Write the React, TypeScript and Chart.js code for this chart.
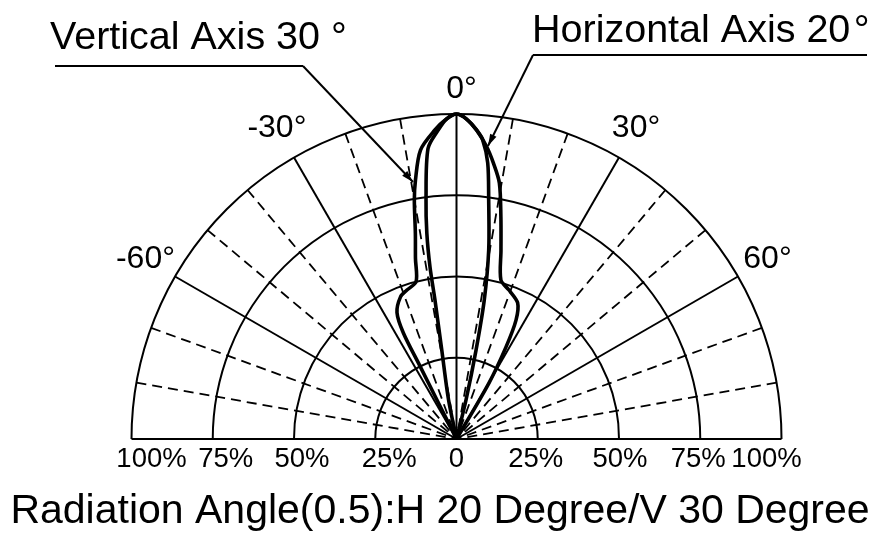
import React, { useEffect, useRef } from "react";
import { Chart, registerables } from "chart.js";

Chart.register(...registerables);

// ---- data (angle in degrees from the 0° axis, relative intensity 0..1) ----
const vAngles = [-27, -26.6, -26.6, -26.6, -25.2, -21.5, -18.4, -14.4, -12.8, -11.3, -10.0, -9.0, -7.1, -4.0, -1.8, 0, 1.8, 3.7, 5.9, 7.6, 9.5, 11.3, 13.25, 15.6, 19.4, 24.2, 26.6, 28.3, 30.1, 31];
const vIntensity = [0, 0.13, 0.25, 0.365, 0.43, 0.47, 0.483, 0.5, 0.57, 0.646, 0.747, 0.807, 0.896, 0.953, 0.985, 1.0, 0.985, 0.953, 0.904, 0.857, 0.799, 0.697, 0.597, 0.508, 0.486, 0.459, 0.409, 0.321, 0.199, 0];
const hAngles = [-12, -11.5, -9.4, -8.8, -8.76, -8.2, -7.27, -5.6, -3.4, -1.8, 0, 1.8, 3.7, 5.0, 6.45, 7.67, 9.67, 11.3, 12.4, 13.7, 14];
const hIntensity = [0, 0.123, 0.278, 0.433, 0.535, 0.64, 0.741, 0.898, 0.952, 0.985, 1.0, 0.985, 0.953, 0.924, 0.855, 0.742, 0.59, 0.436, 0.28, 0.123, 0];

const ringValues = [0.25, 0.5, 0.75, 1];
const spokeAngles = [-80, -70, -60, -50, -40, -30, -20, -10, 0, 10, 20, 30, 40, 50, 60, 70, 80];
const solidSpokes = [-60, -30, 0, 30, 60];
const tickValues = [-1, -0.75, -0.5, -0.25, 0, 0.25, 0.5, 0.75, 1];
const tickLabels = ["100%", "75%", "50%", "25%", "0", "25%", "50%", "75%", "100%"];
const angleLabelValues = [-60, -30, 0, 30, 60];
const angleLabels = ["-60°", "-30°", "0°", "30°", "60°"];
const titleText = "Radiation Angle(0.5):H 20 Degree/V 30 Degree";
const vLabel = "Vertical Axis 30 °";
const hLabel = "Horizontal Axis 20\u200A°";

// layout nudges (pixels) for the bottom tick labels
const tickLabelNudge = [20, 13, 8, 14, 0, -2, 1, -2, -15];

const FONT = '"Liberation Sans", Arial, Helvetica, sans-serif';

function toXY(angles: number[], vals: number[]) {
  return angles.map((a, i) => {
    const t = (a * Math.PI) / 180;
    return { x: vals[i] * Math.sin(t), y: vals[i] * Math.cos(t) };
  });
}

function arrow(ctx: CanvasRenderingContext2D, x0: number, y0: number, x1: number, y1: number) {
  ctx.beginPath();
  ctx.moveTo(x0, y0);
  ctx.lineTo(x1, y1);
  ctx.stroke();
  const ang = Math.atan2(y1 - y0, x1 - x0);
  const L = 12, W = 3.5;
  ctx.beginPath();
  ctx.moveTo(x1, y1);
  ctx.lineTo(x1 - L * Math.cos(ang) + W * Math.sin(ang), y1 - L * Math.sin(ang) - W * Math.cos(ang));
  ctx.lineTo(x1 - L * Math.cos(ang) - W * Math.sin(ang), y1 - L * Math.sin(ang) + W * Math.cos(ang));
  ctx.closePath();
  ctx.fill();
}

const polarPlugin = {
  id: "polarGrid",
  beforeDatasetsDraw(chart: any) {
    const { ctx, scales } = chart;
    const xs = scales.x, ys = scales.y;
    const cx = xs.getPixelForValue(0);
    const cy = ys.getPixelForValue(0);
    const unit = xs.getPixelForValue(1) - cx;
    ctx.save();
    ctx.strokeStyle = "#000";
    ctx.lineWidth = 2;
    ringValues.forEach((r) => {
      ctx.beginPath();
      ctx.arc(cx, cy, r * unit, Math.PI, 2 * Math.PI);
      ctx.stroke();
    });
    spokeAngles.forEach((a) => {
      const t = (a * Math.PI) / 180;
      const solid = solidSpokes.includes(a);
      ctx.setLineDash(solid ? [] : [10, 6]);
      ctx.lineWidth = solid ? 2 : 1.8;
      ctx.beginPath();
      ctx.moveTo(cx + unit * Math.sin(t), cy - unit * Math.cos(t));
      ctx.lineTo(cx, cy);
      ctx.stroke();
    });
    ctx.setLineDash([]);
    ctx.lineWidth = 2.2;
    ctx.beginPath();
    ctx.moveTo(xs.getPixelForValue(-1), cy);
    ctx.lineTo(xs.getPixelForValue(1), cy);
    ctx.stroke();
    ctx.restore();
  },
  afterDatasetsDraw(chart: any) {
    const { ctx, scales } = chart;
    const xs = scales.x, ys = scales.y;
    const cx = xs.getPixelForValue(0);
    const cy = ys.getPixelForValue(0);
    const unit = xs.getPixelForValue(1) - cx;
    ctx.save();
    ctx.fillStyle = "#000";
    ctx.strokeStyle = "#000";
    ctx.font = `27.5px ${FONT}`;
    ctx.textAlign = "center";
    ctx.textBaseline = "alphabetic";
    tickValues.forEach((v, i) => {
      ctx.fillText(tickLabels[i], xs.getPixelForValue(v) + tickLabelNudge[i], cy + 28);
    });
    ctx.font = `32px ${FONT}`;
    ctx.textBaseline = "middle";
    angleLabelValues.forEach((a, i) => {
      const t = (a * Math.PI) / 180;
      const rr = a === 0 ? 1.075 : 1.105;
      ctx.fillText(angleLabels[i], cx + rr * unit * Math.sin(t) + (a === 0 ? 5 : 0), cy - rr * unit * Math.cos(t));
    });
    ctx.font = `39.5px ${FONT}`;
    ctx.textAlign = "left";
    ctx.textBaseline = "alphabetic";
    ctx.fillText(vLabel, 50, 49);
    ctx.fillText(hLabel, 532, 42);
    ctx.lineWidth = 2;
    ctx.beginPath();
    ctx.moveTo(55, 66);
    ctx.lineTo(303, 66);
    ctx.stroke();
    arrow(ctx, 303, 66, 413, 182);
    ctx.beginPath();
    ctx.moveTo(867, 55);
    ctx.lineTo(533, 55);
    ctx.stroke();
    arrow(ctx, 533, 55, 488, 146);
    ctx.font = `41px ${FONT}`;
    ctx.textAlign = "center";
    ctx.fillText(titleText, 440, 523);
    ctx.restore();
  },
};

export default function App() {
  const ref = useRef<HTMLCanvasElement | null>(null);
  useEffect(() => {
    document.body.style.margin = "0";
    const canvas = ref.current;
    if (!canvas) return;
    const chart = new Chart(canvas, {
      type: "scatter",
      data: {
        datasets: [
          {
            label: "Vertical Axis 30°",
            data: toXY(vAngles, vIntensity),
            showLine: true,
            borderColor: "#000",
            borderWidth: 3.6,
            pointRadius: 0,
            tension: 0.3,
            fill: false,
          },
          {
            label: "Horizontal Axis 20°",
            data: toXY(hAngles, hIntensity),
            showLine: true,
            borderColor: "#000",
            borderWidth: 3.6,
            pointRadius: 0,
            tension: 0.3,
            fill: false,
          },
        ],
      },
      options: {
        animation: false,
        responsive: false,
        maintainAspectRatio: false,
        clip: false as any,
        layout: { padding: { left: 131.5, right: 106.5, top: 114, bottom: 99 } },
        scales: {
          x: { type: "linear", min: -1, max: 1, display: false },
          y: { type: "linear", min: 0, max: 1, display: false },
        },
        plugins: { legend: { display: false }, tooltip: { enabled: false } },
      },
      plugins: [polarPlugin],
    });
    return () => chart.destroy();
  }, []);
  return (
    <div style={{ width: 888, height: 538, background: "#fff" }}>
      <canvas ref={ref} width={888} height={538} style={{ display: "block" }} />
    </div>
  );
}
